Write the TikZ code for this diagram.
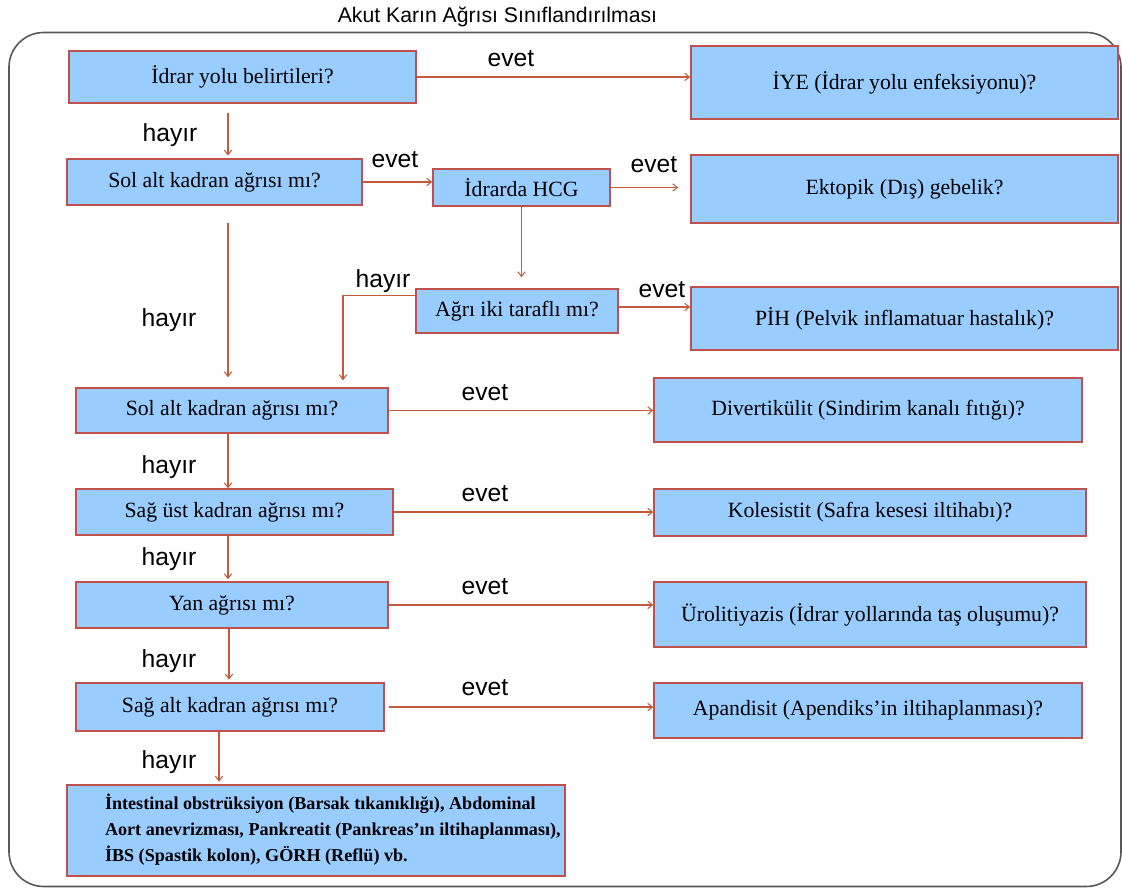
\documentclass[tikz,border=0pt]{standalone}
\usepackage{fontspec}
\setmainfont{Liberation Serif}
\newfontfamily\lsans{Liberation Sans}
\usetikzlibrary{arrows.meta,calc}
\definecolor{boxfill}{HTML}{99CCFF}
\definecolor{boxline}{HTML}{C0504D}
\definecolor{arrline}{HTML}{C25A3C}
\tikzset{
  bx/.style n args={2}{draw=boxline, fill=boxfill, line width=1.1pt,
    minimum width=#1*0.75pt, minimum height=#2*0.75pt, inner sep=0pt,
    font=\fontsize{16.3}{19}\selectfont},
  arr/.style={draw=arrline, line width=0.8pt, -{Straight Barb[length=3.5pt,width=5.5pt]}},
  lbl/.style={anchor=base, inner sep=0pt, font=\lsans\fontsize{18.5}{20}\selectfont},
  frame/.style={draw=black!65, line width=1.2pt, rounded corners=26pt}
}
\begin{document}
\begin{tikzpicture}[x=0.75pt,y=-0.75pt]
\useasboundingbox (0,0) rectangle (1122,888);
\draw[frame] (9,32.5) rectangle (1121,886.5);
\node[anchor=base, inner sep=0pt, font=\lsans\fontsize{15.9}{17}\selectfont] (title) at (497.5,23) {Akut Karın Ağrısı Sınıflandırılması};

% boxes
\node[bx={347}{52}] (b1) at (242.5,77) {İdrar yolu belirtileri?};
\node[bx={427}{73}] (iye) at (904.5,82.5) {İYE (İdrar yolu enfeksiyonu)?};
\node[bx={295}{46}] (b3) at (214.5,182) {Sol alt kadran ağrısı mı?};
\node[bx={177}{37}] (hcg) at (521.5,187.5) {İdrarda HCG};
\node[bx={427}{68}] (ekt) at (904.5,189) {Ektopik (Dış) gebelik?};
\node[bx={202}{44}] (agr) at (517,311) {Ağrı iki taraflı mı?};
\node[bx={427}{63}] (pih) at (904.5,318.5) {PİH (Pelvik inflamatuar hastalık)?};
\node[bx={312}{45}] (b8) at (232,410.5) {Sol alt kadran ağrısı mı?};
\node[bx={428}{64}] (div) at (868,410) {Divertikülit (Sindirim kanalı fıtığı)?};
\node[bx={317}{46}] (b10) at (234.5,512) {Sağ üst kadran ağrısı mı?};
\node[bx={432}{47}] (kol) at (870,512.5) {Kolesistit (Safra kesesi iltihabı)?};
\node[bx={312}{46}] (b12) at (232,605) {Yan ağrısı mı?};
\node[bx={432}{65}] (uro) at (870,614.5) {Ürolitiyazis (İdrar yollarında taş oluşumu)?};
\node[bx={308}{48}] (b14) at (230,707) {Sağ alt kadran ağrısı mı?};
\node[bx={428}{55}] (apa) at (868,710.5) {Apandisit (Apendiks’in iltihaplanması)?};
\node[bx={498}{91}, font=\bfseries\fontsize{13.6}{19.3}\selectfont] (b16) at (316,830.5)
  {\makebox[373.5pt][l]{\hspace*{28.5pt}\raisebox{2.5pt}{\begin{tabular}{@{}l@{}}İntestinal obstrüksiyon (Barsak tıkanıklığı), Abdominal\\
  Aort anevrizması, Pankreatit (Pankreas’ın iltihaplanması),\\
  İBS (Spastik kolon), GÖRH (Reflü) vb.\end{tabular}}}};

% helper x positions
\coordinate (v1) at (228,0);
\coordinate (v2) at (343,0);
\coordinate (v3) at (229,0);
\coordinate (v4) at (219,0);

% horizontal "evet" arrows
\draw[arr] (b1.east) -- (b1.east -| iye.west);
\draw[arr] (b3.east) -- (b3.east -| hcg.west);
\draw[arr, shorten >=9pt] (hcg.east) -- (hcg.east -| ekt.west);
\draw[arr] ($(agr.east)+(0,-4)$) -- ($(agr.east -| pih.west)+(0,-4)$);
\draw[arr] (b8.east) -- (b8.east -| div.west);
\draw[arr] (b10.east) -- (b10.east -| kol.west);
\draw[arr] (b12.east) -- (b12.east -| uro.west);
\draw[arr, shorten <=3pt] (b14.east) -- (b14.east -| apa.west);

% vertical "hayır" arrows
\draw[arr, shorten <=6.75pt, shorten >=2pt] (b1.south -| v1) -- (b3.north -| v1);
\draw[arr, shorten <=12.75pt, shorten >=7.5pt] (b3.south -| v1) -- (b8.north -| v1);
\draw[arr, shorten >=8.25pt] (hcg.south) -- (hcg.south |- agr.north);
\draw[arr, shorten >=5.25pt] ($(agr.north west)+(0,7)$) -| (b8.north -| v2);
\draw[arr] (b8.south -| v1) -- (b10.north -| v1);
\draw[arr, shorten >=1.5pt] (b10.south -| v1) -- (b12.north -| v1);
\draw[arr, shorten >=2pt] (b12.south -| v3) -- (b14.north -| v3);
\draw[arr, shorten >=2pt] (b14.south -| v4) -- (b16.north -| v4);

% labels
\node[lbl] (e1) at (511,67) {evet};
\node[lbl] (e2) at (395,168) {evet};
\node[lbl] (e3) at (654,173) {evet};
\node[lbl] (e4) at (662,298) {evet};
\node[lbl] (e5) at (485,400) {evet};
\node[lbl] (e6) at (485,501) {evet};
\node[lbl] (e7) at (485,594) {evet};
\node[lbl] (e8) at (485,695) {evet};
\node[lbl] (h1) at (170,142) {hayır};
\node[lbl] (h2) at (169,326) {hayır};
\node[lbl] (h3) at (383,288) {hayır};
\node[lbl] (h4) at (169,473) {hayır};
\node[lbl] (h5) at (169,565) {hayır};
\node[lbl] (h6) at (169,667) {hayır};
\node[lbl] (h7) at (169,768) {hayır};
\end{tikzpicture}
\end{document}
